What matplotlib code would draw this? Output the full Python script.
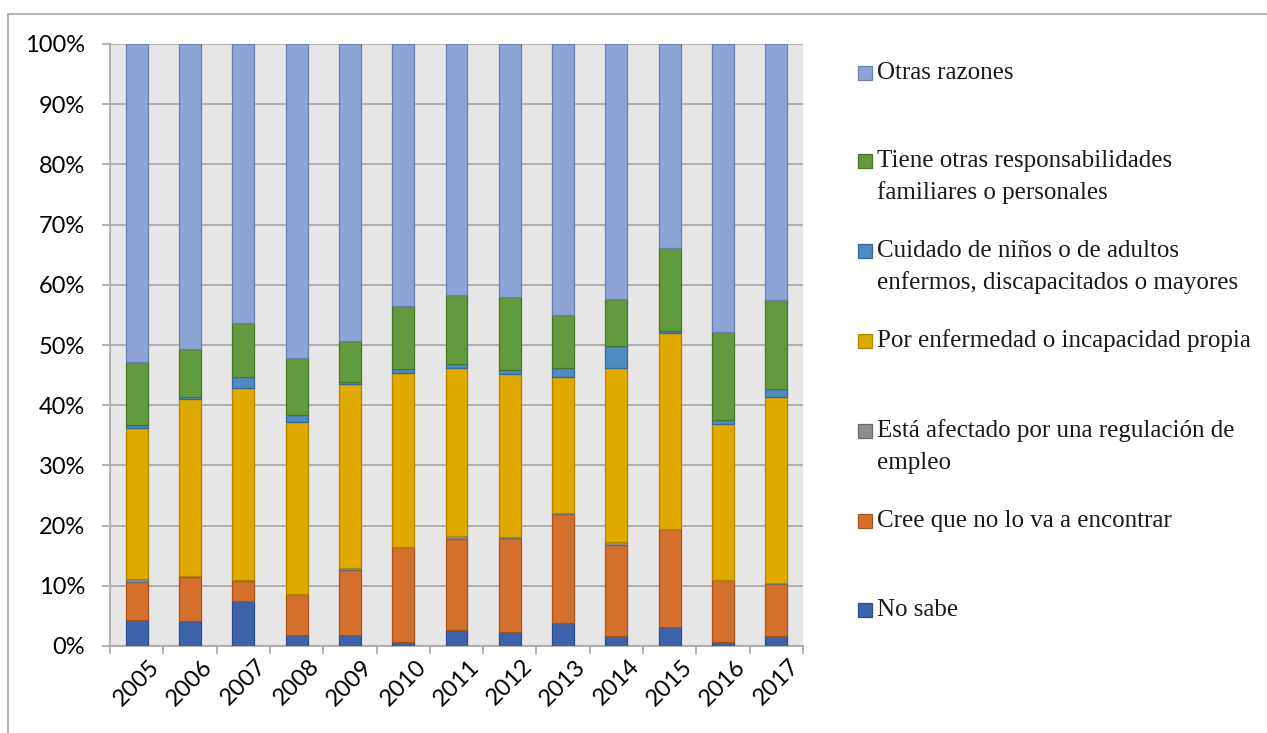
import matplotlib.pyplot as plt
from matplotlib.patches import Rectangle
import numpy as np

# Years and categories (bottom to top of the stack)
years = ['2005', '2006', '2007', '2008', '2009', '2010', '2011',
         '2012', '2013', '2014', '2015', '2016', '2017']

no_sabe = [4.4, 4.2, 7.4, 1.8, 1.9, 0.7, 2.6, 2.4, 3.8, 1.7, 3.1, 0.7, 1.7]
cree_no_encontrar = [6.3, 7.3, 3.4, 6.8, 10.7, 15.7, 15.1, 15.5, 18.1, 15.0, 16.3, 10.2, 8.6]
regulacion_empleo = [0.4, 0.2, 0.1, 0.1, 0.4, 0.1, 0.6, 0.2, 0.2, 0.5, 0.1, 0.1, 0.1]
enfermedad_propia = [25.1, 29.3, 32.0, 28.5, 30.5, 28.9, 27.9, 27.1, 22.6, 29.0, 32.5, 25.9, 30.9]
cuidado = [0.5, 0.4, 1.8, 1.1, 0.4, 0.6, 0.7, 0.6, 1.5, 3.6, 0.4, 0.6, 1.4]
otras_responsab = [10.4, 7.9, 8.9, 9.6, 6.8, 10.4, 11.4, 12.2, 8.8, 7.8, 13.7, 14.7, 14.7]
otras_razones = [52.9, 50.7, 46.4, 52.1, 49.3, 43.6, 41.7, 42.0, 45.0, 42.4, 33.9, 47.8, 42.6]

series = [
    ('No sabe', no_sabe, '#3d64ab', '#2c4c88'),
    ('Cree que no lo va a encontrar', cree_no_encontrar, '#d4702c', '#a8531c'),
    ('Está afectado por una regulación de\nempleo', regulacion_empleo, '#8e8e8e', '#6a6a6a'),
    ('Por enfermedad o incapacidad propia', enfermedad_propia, '#e0a900', '#b08500'),
    ('Cuidado de niños o de adultos\nenfermos, discapacitados o mayores', cuidado, '#4f8bc0', '#35689a'),
    ('Tiene otras responsabilidades\nfamiliares o personales', otras_responsab, '#629a3e', '#47752a'),
    ('Otras razones', otras_razones, '#8fa4d6', '#6a7fb0'),
]

fig = plt.figure(figsize=(12.67, 7.33), dpi=100)
ax = fig.add_axes([110 / 1267, 87 / 733, 693 / 1267, 602 / 733])
ax.set_facecolor('#e6e6e6')

x = np.arange(len(years))
bottom = np.zeros(len(years))
for label, vals, col, edge in series:
    vals = np.array(vals)
    ax.bar(x, vals, bottom=bottom, width=0.41, color=col, edgecolor=edge,
           linewidth=0.9, zorder=3)
    bottom += vals

ax.set_xlim(-0.5, len(years) - 0.5)
ax.set_ylim(0, 100)
ax.set_yticks(np.arange(0, 101, 10))
ax.set_yticklabels([f'{v}%' for v in range(0, 101, 10)], fontfamily='Lato', fontsize=17)
ax.yaxis.grid(True, color='#a6a6a6', linewidth=1.2, zorder=1)
ax.tick_params(axis='y', length=6, color='#a6a6a6', width=1.2, pad=12)

ax.set_xticks(x)
ax.set_xticklabels(years, rotation=45, fontfamily='Lato', fontsize=17)
ax.set_xticks(np.arange(-0.5, len(years)), minor=True)
ax.tick_params(axis='x', which='major', length=0, pad=7)
ax.tick_params(axis='x', which='minor', length=6, color='#a6a6a6', width=1.2)

for s in ['top', 'right']:
    ax.spines[s].set_visible(False)
for s in ['left', 'bottom']:
    ax.spines[s].set_color('#a6a6a6')
    ax.spines[s].set_linewidth(1.2)

# outer chart frame
fig.patches.append(Rectangle((8 / 1267, -0.05), 1.1, (733 - 14) / 733 + 0.05,
                             transform=fig.transFigure, fill=False,
                             edgecolor='#a6a6a6', linewidth=1.2))

# legend drawn manually (top entry = top of the stack)
legend_y = [73, 161, 251, 341, 431, 521, 610]
for (label, vals, col, edge), ly in zip(series[::-1], legend_y):
    fig.patches.append(Rectangle((858 / 1267, (733 - ly - 7) / 733), 14 / 1267, 14 / 733,
                                 transform=fig.transFigure, facecolor=col,
                                 edgecolor=edge, linewidth=0.9))
    lines = label.split('\n')
    for i, line in enumerate(lines):
        fig.text(877 / 1267, (733 - ly - 32 * i) / 733, line, fontfamily='Liberation Serif',
                 fontsize=18, va='center', ha='left', color='#1a1a1a')

plt.savefig('out.png', dpi=100)
